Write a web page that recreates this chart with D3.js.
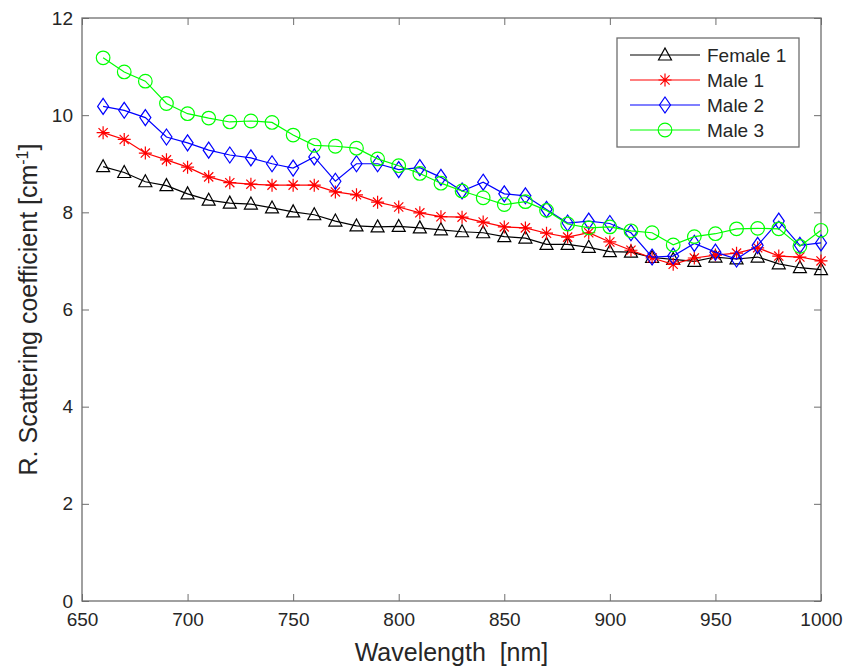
<!DOCTYPE html>
<html>
<head>
<meta charset="utf-8">
<script src="https://cdn.jsdelivr.net/npm/d3@7"></script>
<style>
  body { margin: 0; background: #fff; }
  text { font-family: "Liberation Sans", Arial, sans-serif; fill: #262626; }
</style>
</head>
<body>
<div id="chart"></div>
<script>
var w = 848,
    h = 670;

var margin = { left: 82, right: 27, top: 18, bottom: 69 };

// --- data ---
var wavelength = [660, 670, 680, 690, 700, 710, 720, 730, 740, 750,
                  760, 770, 780, 790, 800, 810, 820, 830, 840, 850,
                  860, 870, 880, 890, 900, 910, 920, 930, 940, 950,
                  960, 970, 980, 990, 1000];

var female1 = [8.94, 8.82, 8.63, 8.55, 8.38, 8.25, 8.19, 8.17, 8.09, 8.01,
               7.95, 7.82, 7.72, 7.70, 7.71, 7.68, 7.64, 7.60, 7.58, 7.50,
               7.47, 7.34, 7.34, 7.28, 7.19, 7.18, 7.07, 7.03, 6.99, 7.08,
               7.04, 7.08, 6.94, 6.86, 6.82];

var male1 = [9.64, 9.50, 9.22, 9.08, 8.93, 8.73, 8.61, 8.58, 8.56, 8.56,
             8.56, 8.42, 8.36, 8.21, 8.11, 7.99, 7.91, 7.90, 7.80, 7.70,
             7.68, 7.57, 7.49, 7.58, 7.39, 7.22, 7.06, 6.93, 7.06, 7.12,
             7.16, 7.27, 7.10, 7.08, 7.00];

var male2 = [10.18, 10.10, 9.95, 9.55, 9.43, 9.28, 9.18, 9.12, 9.00, 8.91,
             9.14, 8.64, 9.00, 9.00, 8.88, 8.92, 8.72, 8.44, 8.62, 8.38,
             8.34, 8.06, 7.78, 7.82, 7.77, 7.58, 7.08, 7.10, 7.36, 7.18,
             7.04, 7.32, 7.82, 7.32, 7.37];

var male3 = [11.18, 10.89, 10.70, 10.24, 10.03, 9.94, 9.86, 9.88, 9.85, 9.59,
             9.38, 9.36, 9.32, 9.10, 8.96, 8.80, 8.60, 8.44, 8.30, 8.16,
             8.22, 8.04, 7.76, 7.68, 7.70, 7.62, 7.58, 7.33, 7.50, 7.56,
             7.66, 7.67, 7.66, 7.30, 7.63];

var seriesNames = ["Female 1", "Male 1", "Male 2", "Male 3"];
var seriesColors = ["#000000", "#ff0000", "#0000ff", "#00ff00"];
var seriesMarkers = ["triangle", "star", "diamond", "circle"];
var seriesValues = [female1, male1, male2, male3];

var xTicks = [650, 700, 750, 800, 850, 900, 950, 1000];
var yTicks = [0, 2, 4, 6, 8, 10, 12];

// --- scales ---
var x = d3.scaleLinear().domain([650, 1000]).range([margin.left, w - margin.right]);
var y = d3.scaleLinear().domain([0, 12]).range([h - margin.bottom, margin.top]);

var svg = d3.select("#chart")
            .append("svg")
            .attr("width", w)
            .attr("height", h);

var axisColor = "#6e6e6e";

// axes with inward ticks, on all four sides
function styleAxis(g) {
  g.select(".domain").remove();
  g.selectAll(".tick line").attr("stroke", axisColor).attr("stroke-width", 1);
  g.selectAll(".tick text").attr("font-size", "19px").attr("fill", "#262626");
}

svg.append("g")
   .attr("transform", "translate(0," + y(0) + ")")
   .call(d3.axisBottom(x).tickValues(xTicks).tickSizeInner(-7).tickPadding(12).tickFormat(d3.format("d")))
   .call(styleAxis)
   .attr("font-family", null);

svg.append("g")
   .attr("transform", "translate(" + x(650) + ",0)")
   .call(d3.axisLeft(y).tickValues(yTicks).tickSizeInner(-7).tickPadding(9).tickFormat(d3.format("d")))
   .call(styleAxis)
   .attr("font-family", null);

svg.append("g")
   .attr("transform", "translate(0," + y(12) + ")")
   .call(d3.axisTop(x).tickValues(xTicks).tickSizeInner(-7).tickFormat(""))
   .call(styleAxis);

svg.append("g")
   .attr("transform", "translate(" + x(1000) + ",0)")
   .call(d3.axisRight(y).tickValues(yTicks).tickSizeInner(-7).tickFormat(""))
   .call(styleAxis);

svg.append("rect")
   .attr("x", x(650))
   .attr("y", y(12))
   .attr("width", x(1000) - x(650))
   .attr("height", y(0) - y(12))
   .attr("fill", "none")
   .attr("stroke", axisColor)
   .attr("stroke-width", 1.3);

// --- markers ---
function markerPath(type) {
  if (type == "triangle") return "M0,-7L6.5,5L-6.5,5Z";
  if (type == "diamond") return "M0,-8L5.5,0L0,8L-5.5,0Z";
  if (type == "star") return "M0,-6.5V6.5M-6.5,0H6.5M-4.6,-4.6L4.6,4.6M-4.6,4.6L4.6,-4.6";
  return d3.symbol().type(d3.symbolCircle).size(Math.PI * 6.8 * 6.8)();
}

var line = d3.line()
             .x(function(d) { return x(d.wl); })
             .y(function(d) { return y(d.v); });

var plot = svg.append("g");

seriesValues.forEach(function(vals, s) {
  var pts = wavelength.map(function(wl, i) { return { wl: wl, v: vals[i] }; });

  plot.append("path")
      .datum(pts)
      .attr("d", line)
      .attr("fill", "none")
      .attr("stroke", seriesColors[s])
      .attr("stroke-width", 1.2);

  plot.selectAll(".m" + s)
      .data(pts)
      .enter().append("path")
      .attr("class", "m" + s)
      .attr("transform", function(d) { return "translate(" + x(d.wl) + "," + y(d.v) + ")"; })
      .attr("d", markerPath(seriesMarkers[s]))
      .attr("fill", "none")
      .attr("stroke", seriesColors[s])
      .attr("stroke-width", 1.2);
});

// --- legend ---
var legend = svg.append("g");

legend.append("rect")
      .attr("x", 617)
      .attr("y", 38)
      .attr("width", 182)
      .attr("height", 109)
      .attr("fill", "#fff")
      .attr("stroke", axisColor)
      .attr("stroke-width", 1.3);

seriesNames.forEach(function(name, s) {
  var ly = 55 + s * 25;
  legend.append("line")
        .attr("x1", 630).attr("x2", 700)
        .attr("y1", ly).attr("y2", ly)
        .attr("stroke", seriesColors[s])
        .attr("stroke-width", 1.2);
  legend.append("path")
        .attr("transform", "translate(665," + ly + ")")
        .attr("d", markerPath(seriesMarkers[s]))
        .attr("fill", "none")
        .attr("stroke", seriesColors[s])
        .attr("stroke-width", 1.2);
  legend.append("text")
        .attr("x", 707)
        .attr("y", ly + 7)
        .attr("font-size", "19px")
        .text(name);
});

// --- axis titles ---
svg.append("text")
   .attr("x", (x(650) + x(1000)) / 2)
   .attr("y", 661)
   .attr("text-anchor", "middle")
   .attr("font-size", "25px")
   .attr("xml:space", "preserve")
   .style("white-space", "pre")
   .text("Wavelength  [nm]");

var yTitle = svg.append("text")
   .attr("transform", "translate(37," + (y(6)) + ") rotate(-90)")
   .attr("text-anchor", "middle")
   .attr("font-size", "25px");

yTitle.append("tspan").text("R. Scattering coefficient [cm");
yTitle.append("tspan").attr("dy", -9).attr("font-size", "16px").text("-1");
yTitle.append("tspan").attr("dy", 9).text("]");
</script>
</body>
</html>
